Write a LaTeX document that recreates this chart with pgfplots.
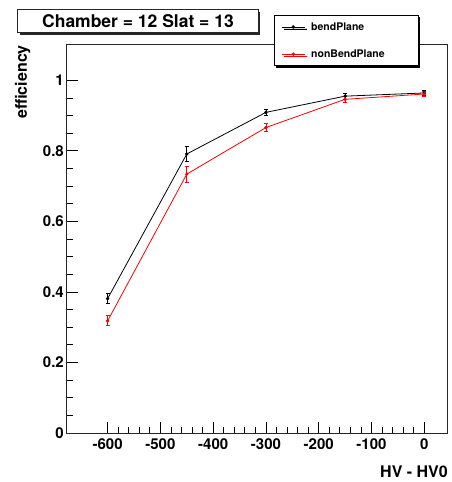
\documentclass[border=0pt]{standalone}
\usepackage{fontspec}
\setmainfont{TeX Gyre Heros}
\usepackage{pgfplots}
\pgfplotsset{compat=1.18}
\usetikzlibrary{shadows}

\begin{document}
\begin{tikzpicture}
\useasboundingbox (-67pt,-49pt) rectangle (385pt,433pt);
\begin{axis}[
  scale only axis, width=381pt, height=388pt,
  at={(0pt,0pt)}, anchor=south west,
  xmin=-677, xmax=45, ymin=0, ymax=1.1,
  xtick={-600,-500,-400,-300,-200,-100,0}, minor x tick num=4,
  ytick={0,0.2,0.4,0.6,0.8,1}, minor y tick num=3,
  xtick pos=left, ytick pos=left,
  tick align=inside,
  major tick length=11pt, minor tick length=6pt,
  tick style={black, line width=0.8pt},
  axis line style={line width=1pt, black!85},
  /pgf/number format/assume math mode=true,
  ticklabel style={font=\fontsize{15}{15}\selectfont\bfseries, inner sep=0pt},
  xticklabel style={yshift=-5pt},
  yticklabel style={xshift=-3pt},
  xlabel={HV - HV0}, ylabel={efficiency},
  label style={font=\fontsize{16}{16}\selectfont\bfseries, inner sep=0pt},
  xlabel style={at={(axis description cs:1,-0.1134)}, anchor=base east},
  ylabel style={at={(axis description cs:-0.105,1)}, anchor=base east},
  legend style={at={(axis description cs:0.5433,1.0773)}, anchor=north west,
    draw=black, line width=0.8pt, fill=white,
    drop shadow={shadow xshift=2pt, shadow yshift=-2pt, opacity=1, fill=black},
    inner xsep=7pt, inner ysep=7pt, row sep=18pt, column sep=6pt,
    font=\fontsize{10.5}{10.5}\selectfont\bfseries,
    nodes={inner sep=0pt}},
  legend cell align=left,
  legend image code/.code={\draw[mark repeat=2,mark phase=2,#1] plot coordinates {(0pt,0pt) (11.5pt,0pt) (23pt,0pt)};},
]
\addplot[black, line width=0.8pt, mark=*, mark size=1.3pt,
  error bars/.cd, y dir=both, y explicit,
  error bar style={line width=0.8pt},
  error mark options={rotate=90, mark size=2pt, line width=0.8pt}]
  coordinates {
  (-600,0.381) +- (0,0.014)
  (-450,0.791) +- (0,0.021)
  (-300,0.909) +- (0,0.009)
  (-150,0.955) +- (0,0.008)
  (0,0.964) +- (0,0.007)
};
\addlegendentry{\makebox[100pt][l]{bendPlane}}
\addplot[red, line width=0.8pt, mark=*, mark size=1.3pt,
  error bars/.cd, y dir=both, y explicit,
  error bar style={line width=0.8pt},
  error mark options={rotate=90, mark size=2pt, line width=0.8pt}]
  coordinates {
  (-600,0.318) +- (0,0.014)
  (-450,0.734) +- (0,0.023)
  (-300,0.866) +- (0,0.012)
  (-150,0.946) +- (0,0.008)
  (0,0.961) +- (0,0.007)
};
\addlegendentry{\makebox[100pt][l]{nonBendPlane}}
\end{axis}
\node[draw=black!85, line width=1pt, fill=white,
  drop shadow={shadow xshift=2pt, shadow yshift=-2pt, opacity=1, fill=black!85},
  minimum width=240pt, minimum height=23pt, inner sep=0pt,
  font=\fontsize{17.5}{17.5}\selectfont\bfseries] at (71pt,411.5pt) {Chamber = 12 Slat = 13};
\end{tikzpicture}
\end{document}
